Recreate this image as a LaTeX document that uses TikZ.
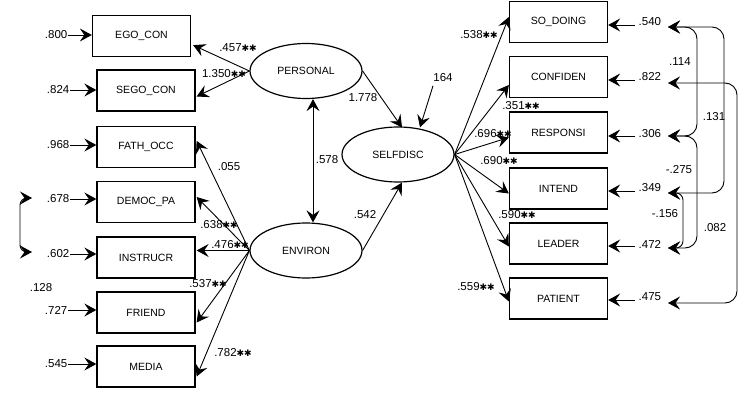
\documentclass[tikz,border=0pt]{standalone}
\usepackage{fontspec}
\setmainfont{Liberation Sans}
\newfontfamily\djv{DejaVu Sans}
\usetikzlibrary{arrows.meta,calc,shapes.geometric}
\newcommand\sstar{{\djv\fontsize{9}{9}\selectfont ✱}}
\begin{document}
\begin{tikzpicture}[x=1pt,y=-1pt,
  obs/.style={draw,line width=1.3pt,minimum width=98pt,minimum height=41pt,inner sep=0pt,font=\fontsize{10.5}{11}\selectfont},
  lat/.style={draw,ellipse,line width=1.2pt,minimum width=112pt,minimum height=55pt,inner sep=0pt,font=\fontsize{10.5}{11}\selectfont},
  num/.style={inner sep=0.5pt,font=\fontsize{11.5}{12}\selectfont},
  tip/.tip={Stealth[length=12pt,width=13pt,inset=4.5pt]},
  arr/.style={-tip,line width=0.9pt},
  darr/.style={tip-tip,line width=0.9pt},
  cov/.style={darr,rounded corners=12pt}]
\useasboundingbox (0,0) rectangle (741,393);
% left observed
\node[obs] (ego) at (141.5,36) {EGO\_CON};
\node[obs] (sego) at (146,90.5) {SEGO\_CON};
\node[obs] (fath) at (146,147) {FATH\_OCC};
\node[obs] (democ) at (146,202) {DEMOC\_PA};
\node[obs] (instr) at (146,257.5) {INSTRUCR};
\node[obs] (friend) at (146,312.5) {FRIEND};
\node[obs] (media) at (146,366.5) {MEDIA};
% right observed
\node[obs] (so) at (558.5,22) {SO\_DOING};
\node[obs] (conf) at (558.5,77) {CONFIDEN};
\node[obs] (resp) at (558.5,132.5) {RESPONSI};
\node[obs] (intend) at (558.5,188.5) {INTEND};
\node[obs] (leader) at (558.5,243.5) {LEADER};
\node[obs] (patient) at (558.5,298.5) {PATIENT};
% latent
\node[lat] (per) at (306,71) {PERSONAL};
\node[lat] (sd) at (398,154.5) {SELFDISC};
\node[lat] (env) at (306,250.5) {ENVIRON};
% left errors
\node[num,anchor=east] (e1) at (68,35) {.800};
\node[num,anchor=east] (e2) at (70,90) {.824};
\node[num,anchor=east] (e3) at (70,145) {.968};
\node[num,anchor=east] (e4) at (70,199) {.678};
\node[num,anchor=east] (e5) at (70,254) {.602};
\node[num,anchor=east] (e6) at (68,310) {.727};
\node[num,anchor=east] (e7) at (68,364) {.545};
\node[num] (e128) at (41,288) {.128};
\draw[arr] (e1.east) -- (e1.east -| ego.west);
\draw[arr] (e2.east) -- (e2.east -| sego.west);
\draw[arr] (e3.east) -- (e3.east -| fath.west);
\draw[arr] (e4.east) -- (e4.east -| democ.west);
\draw[arr] (e5.east) -- (e5.east -| instr.west);
\draw[arr] (e6.east) -- (e6.east -| friend.west);
\draw[arr] (e7.east) -- (e7.east -| media.west);
\coordinate (l1) at (32,198);
\coordinate (l2) at (32,252);
\draw[darr,rounded corners=7pt] (l1) -- ++(-12,0) |- (l2);
% right errors
\node[num,anchor=west] (r1l) at (638,22) {.540};
\node[num,anchor=west] (r2l) at (638,77) {.822};
\node[num,anchor=west] (r3l) at (638,134) {.306};
\node[num,anchor=west] (r4l) at (638,188) {.349};
\node[num,anchor=west] (r5l) at (638,244) {.472};
\node[num,anchor=west] (r6l) at (638,297) {.475};
\draw[arr] ($(r1l.west)+(-3,3)$) -- ($(r1l.west -| so.east)+(0,3)$);
\draw[arr] ($(r2l.west)+(-3,3)$) -- ($(r2l.west -| conf.east)+(0,3)$);
\draw[arr] ($(r3l.west)+(-3,2)$) -- ($(r3l.west -| resp.east)+(0,2)$);
\draw[arr] ($(r4l.west)+(-3,3)$) -- ($(r4l.west -| intend.east)+(0,3)$);
\draw[arr] ($(r5l.west)+(-3,2)$) -- ($(r5l.west -| leader.east)+(0,2)$);
\draw[arr] ($(r6l.west)+(-3,3)$) -- ($(r6l.west -| patient.east)+(0,3)$);
% covariances right
\coordinate (r1) at (668,27);
\coordinate (r2) at (668,83);
\coordinate (r3) at (668,136);
\coordinate (r4) at (668,193);
\coordinate (r5) at (668,248);
\coordinate (r6) at (668,303);
\draw[cov] (r1) -- ++(29,0) |- (r3);
\draw[cov] (r1) -- ++(56,0) |- (r4);
\draw[cov] (r2) -- ++(69,0) |- (r6);
\draw[cov] (r3) -- ++(29,0) |- (r5);
\draw[cov,rounded corners=7pt] (r4) -- ++(15,0) |- (r5);
\node[num] at (680,62) {.114};
\node[num] at (714,117) {.131};
\node[num] at (679,170) {-.275};
\node[num] at (665,214) {-.156};
\node[num] at (715,228) {.082};
% latent -> left indicators
\draw[arr] (per.west) -- ($(ego.south east)+(2,-12)$);
\draw[arr] (per.west) -- ($(sego.east)+(1,6)$);
\draw[arr] (env.west) -- ($(fath.north east)+(1,15)$);
\draw[arr] (env.west) -- ($(democ.east)+(1,-5)$);
\draw[arr] (env.west) -- ($(instr.east)+(1,-7)$);
\draw[arr] (env.west) -- ($(friend.east)+(1,10)$);
\draw[arr] (env.west) -- ($(media.east)+(1,10)$);
\node[num] at (238,48) {.457\sstar\sstar};
\node[num] at (224,74) {1.350\sstar\sstar};
\node[num] at (229,167) {.055};
\node[num] at (219,225) {.638\sstar\sstar};
\node[num] at (230,245) {.476\sstar\sstar};
\node[num] at (208,284) {.537\sstar\sstar};
\node[num] at (233,353) {.782\sstar\sstar};
% structural
\draw[darr] ($(per.south)+(7,0)$) -- ($(env.north)+(7,0)$);
\node[num] at (327,160) {.578};
\draw[arr] (per.east) -- ($(sd.north)+(4,1)$);
\node[num] at (363,98) {1.778};
\draw[arr] (env.east) -- ($(sd.south)+(4,0)$);
\node[num] at (365,215) {.542};
\node[num] (d164) at (443,78) {164};
\draw[arr] ($(d164.south)+(-10,3)$) -- ($(sd.north)+(22,1)$);
% selfdisc -> right indicators
\draw[arr] (sd.east) -- ($(so.west)+(0,-5)$);
\draw[arr] (sd.east) -- ($(conf.west)+(0,8)$);
\draw[arr] (sd.east) -- ($(resp.west)+(0,5)$);
\draw[arr] (sd.east) -- ($(intend.west)+(0,5)$);
\draw[arr] (sd.east) -- ($(leader.west)+(0,3)$);
\draw[arr] (sd.east) -- ($(patient.west)+(0,3)$);
\node[num] at (479,35) {.538\sstar\sstar};
\node[num] at (521,106) {.351\sstar\sstar};
\node[num] at (493,134) {.696\sstar\sstar};
\node[num] at (499,161) {.690\sstar\sstar};
\node[num] at (517,215) {.590\sstar\sstar};
\node[num] at (476,287) {.559\sstar\sstar};
\end{tikzpicture}
\end{document}
